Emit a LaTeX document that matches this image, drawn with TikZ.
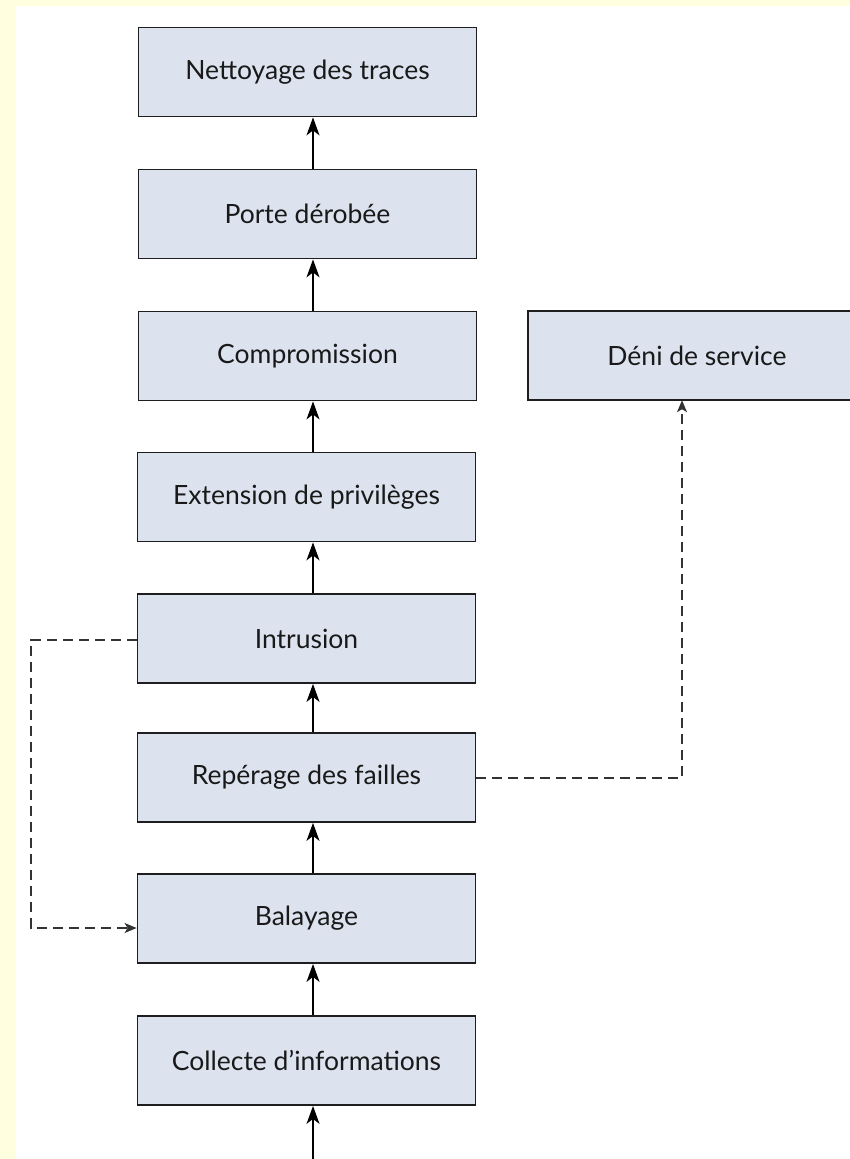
\documentclass[tikz,border=0pt]{standalone}
\usepackage{fontspec}
\setmainfont{Lato}
\usetikzlibrary{arrows.meta,calc}
\definecolor{bgyellow}{RGB}{255,255,224}
\definecolor{boxfill}{RGB}{220,227,239}
\definecolor{boxline}{RGB}{30,30,30}
\tikzset{
  boxtext/.style={fill=boxfill, minimum width=338pt, minimum height=89pt, inner sep=0pt, font=\fontsize{26.5}{30}\selectfont, text=black!90},
  stepbox/.style={boxtext, draw=boxline, line width=1.8pt},
  flow/.style={line width=1.6pt, draw=black, -{Stealth[length=18pt,width=13pt,inset=5pt]}},
  dflow/.style={line width=1.4pt, draw=black!80, dash pattern=on 10pt off 6pt, -{Stealth[length=12pt,width=10pt,inset=3pt]}},
  edge/.style={line width=1.8pt, draw=boxline}
}
\begin{document}
\begin{tikzpicture}[x=1pt,y=-1pt]
\useasboundingbox (0,0) rectangle (850,1159);
\clip (0,0) rectangle (850,1159);
\fill[bgyellow] (0,0) rectangle (850,1159);
\fill[white] (16,6) rectangle (850,1159);

\node[stepbox] (n1) at (307.5,72) {Nettoyage des traces};
\node[stepbox] (n2) at (307.5,214) {Porte dérobée};
\node[stepbox] (n3) at (307.5,356) {Compromission};
\node[stepbox] (n4) at (306.5,497) {Extension de privilèges};
\node[stepbox] (n5) at (306.5,638.5) {Intrusion};
\node[stepbox] (n6) at (306.5,777.5) {Repérage des failles};
\node[stepbox] (n7) at (306.5,918.5) {Balayage};
\node[stepbox] (n8) at (306.5,1060.5) {Collecte d’informations};
\node[boxtext] (d) at (697,355.5) {Déni de service};
\draw[edge] (d.north east) -- (d.north west) -- (d.south west) -- (d.south east);

\coordinate (start) at (313,1159);
\coordinate (rc) at (682,778);
\coordinate (lc1) at (31,640);
\coordinate (lc2) at (31,928);

\draw[flow] (start) -- (start |- n8.south);
\draw[flow] (n8.north -| start) -- (n7.south -| start);
\draw[flow] (n7.north -| start) -- (n6.south -| start);
\draw[flow] (n6.north -| start) -- (n5.south -| start);
\draw[flow] (n5.north -| start) -- (n4.south -| start);
\draw[flow] (n4.north -| start) -- (n3.south -| start);
\draw[flow] (n3.north -| start) -- (n2.south -| start);
\draw[flow] (n2.north -| start) -- (n1.south -| start);

\draw[dflow] (n6.east |- rc) -- (rc) -- (rc |- d.south);
\draw[dflow] (n5.west |- lc1) -- (lc1) -- (lc2) -- (n7.west |- lc2);
\end{tikzpicture}
\end{document}
